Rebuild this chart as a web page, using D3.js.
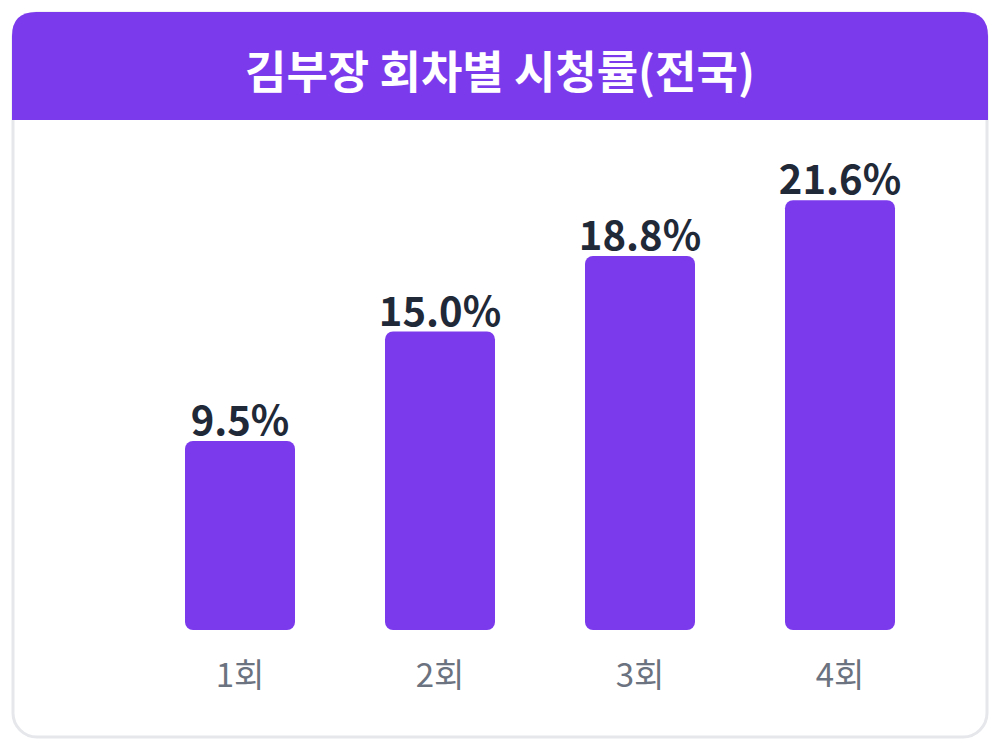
<!DOCTYPE html>
<html>
<head>
<meta charset="utf-8">
<script src="https://cdn.jsdelivr.net/npm/d3@7"></script>
<style>
  body { margin: 0; background: #fff; }
  svg { display: block; font-family: "Noto Sans CJK KR", "Noto Sans", sans-serif; }
</style>
</head>
<body>
<svg id="chart" width="1000" height="750"></svg>
<script>
// data
var episodes = ['1회', '2회', '3회', '4회'];
var ratings = [9.5, 15.0, 18.8, 21.6];
var title = '김부장 회차별 시청률(전국)';

var W = 1000, H = 750;
var purple = '#7c3aed';

var svg = d3.select('#chart');

// card
svg.append('rect')
  .attr('x', 13).attr('y', 13)
  .attr('width', 974).attr('height', 724)
  .attr('rx', 24).attr('ry', 24)
  .attr('fill', '#fff')
  .attr('stroke', '#e5e7eb')
  .attr('stroke-width', 3);

// header with rounded top only
svg.append('path')
  .attr('d', 'M12,120 L12,36 Q12,12 36,12 L964,12 Q988,12 988,36 L988,120 Z')
  .attr('fill', purple);

svg.append('text')
  .attr('x', W / 2).attr('y', 77)
  .attr('text-anchor', 'middle')
  .attr('dominant-baseline', 'middle')
  .attr('fill', '#fff')
  .attr('font-size', 45)
  .attr('font-weight', 700)
  .text(title);

var x = d3.scaleBand()
  .domain(episodes)
  .range([140, 940])
  .paddingInner(0.45)
  .paddingOuter(0.225);

var y = d3.scaleLinear()
  .domain([0, 25])
  .range([630, 132.5]);

var g = svg.append('g');

g.selectAll('rect.bar')
  .data(ratings)
  .enter()
  .append('rect')
  .attr('class', 'bar')
  .attr('x', function(d, i) { return x(episodes[i]); })
  .attr('y', function(d) { return y(d); })
  .attr('width', x.bandwidth())
  .attr('height', function(d) { return y(0) - y(d); })
  .attr('rx', 8).attr('ry', 8)
  .attr('fill', purple);

g.selectAll('text.val')
  .data(ratings)
  .enter()
  .append('text')
  .attr('class', 'val')
  .attr('x', function(d, i) { return x(episodes[i]) + x.bandwidth() / 2; })
  .attr('y', function(d) { return y(d) - 6; })
  .attr('text-anchor', 'middle')
  .attr('fill', '#1f2937')
  .attr('font-size', 40)
  .attr('font-weight', 700)
  .text(function(d) { return d.toFixed(1) + '%'; });

// x axis labels
var xAxis = d3.axisBottom(x).tickSize(0).tickPadding(0);
var ax = svg.append('g')
  .attr('transform', 'translate(0,' + 630 + ')')
  .call(xAxis);
ax.select('.domain').remove();
ax.selectAll('text')
  .attr('y', 57)
  .attr('dy', null)
  .attr('fill', '#6b7280')
  .attr('font-size', 33)
  .attr('font-family', '"Noto Sans CJK KR", sans-serif');
</script>
</body>
</html>
